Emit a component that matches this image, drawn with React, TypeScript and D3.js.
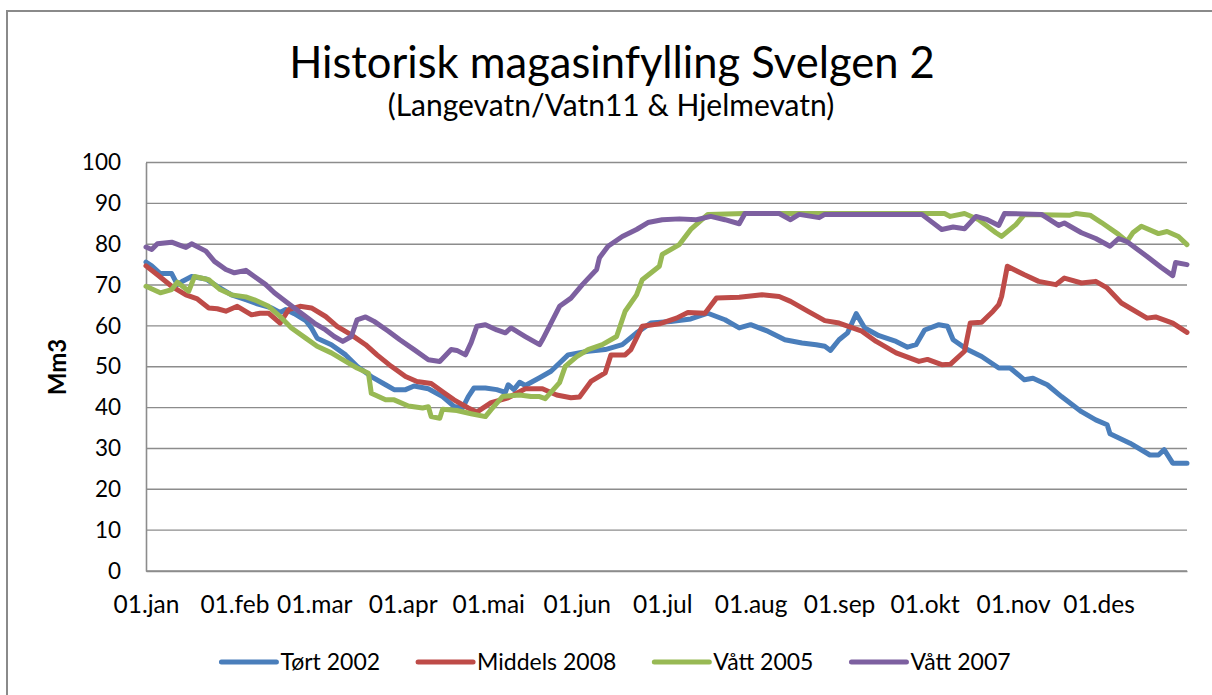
import React, { useEffect, useRef } from 'react';
import * as d3 from 'd3';

const monthLabels = ['01.jan', '01.feb', '01.mar', '01.apr', '01.mai', '01.jun', '01.jul', '01.aug', '01.sep', '01.okt', '01.nov', '01.des'];
const monthStartDays = [0, 31, 59, 90, 120, 151, 181, 212, 243, 273, 304, 334];
const yTicks = [0, 10, 20, 30, 40, 50, 60, 70, 80, 90, 100];

// [day of year, Mm3]
const tort2002: [number, number][] = [
  [0, 75.6], [2, 74.7], [5, 72.8], [9, 72.8], [11, 70.1], [13, 71], [16, 72.1], [21, 71.5], [25, 69.7], [30, 67.6],
  [35, 66.4], [39, 65.4], [44, 64.4], [47, 63.3], [49, 64], [52, 63], [56, 61.3], [58, 59.5], [60, 57], [65, 55.4],
  [70, 52.9], [74, 50.1], [79, 47.6], [84, 45.6], [87, 44.4], [91, 44.4], [94, 45.3], [99, 44.6], [104, 42.7], [108, 40.3],
  [111, 39.9], [113, 42.7], [115, 44.8], [119, 44.8], [123, 44.4], [126, 43.7], [127, 45.6], [129, 44.4], [131, 46.2], [133, 45.4],
  [138, 47.3], [142, 48.9], [148, 52.9], [155, 53.8], [161, 54.2], [167, 55.4], [172, 58.3], [177, 60.7], [184, 61.1], [191, 61.7],
  [197, 63.1], [203, 61.5], [208, 59.5], [212, 60.3], [218, 58.7], [224, 56.6], [230, 55.8], [235, 55.4], [238, 55], [240, 54],
  [243, 56.6], [246, 58.3], [249, 63], [252, 59.5], [257, 57.6], [263, 56.2], [267, 54.8], [270, 55.4], [273, 59], [278, 60.3],
  [281, 59.9], [283, 56.6], [288, 54.2], [293, 52.5], [299, 49.7], [303, 49.7], [308, 46.8], [311, 47.2], [316, 45.6], [321, 42.7],
  [328, 39], [333, 37], [337, 35.8], [338, 33.6], [345, 31.3], [352, 28.4], [355, 28.4], [357, 29.7], [360, 26.4], [365, 26.4],
];

const middels2008: [number, number][] = [
  [0, 74.7], [4, 72.5], [9, 69.7], [14, 67.6], [18, 66.6], [22, 64.4], [25, 64.2], [28, 63.6], [32, 64.8], [37, 62.7],
  [40, 63.1], [43, 63.1], [47, 60.7], [50, 64], [54, 64.8], [58, 64.4], [63, 62.3], [67, 59.9], [72, 57.8], [77, 55.4],
  [81, 52.9], [86, 50.1], [91, 47.6], [95, 46.4], [100, 45.9], [104, 43.9], [108, 41.9], [113, 39.9], [116, 38.9], [121, 41.2],
  [127, 42.4], [133, 44.6], [139, 44.6], [144, 43.1], [149, 42.4], [152, 42.6], [156, 46.4], [161, 48.5], [163, 52.9], [168, 52.9],
  [170, 54.2], [174, 59.9], [180, 60.5], [186, 61.9], [190, 63.3], [196, 63.1], [200, 66.8], [208, 67], [216, 67.6], [222, 67.2],
  [226, 66], [232, 63.6], [238, 61.3], [243, 60.7], [251, 58.7], [256, 56.2], [263, 53.4], [271, 51.3], [274, 51.8], [279, 50.5],
  [282, 50.6], [287, 53.8], [289, 60.7], [293, 60.9], [297, 63.6], [299, 65.2], [300, 67.2], [302, 74.6], [308, 72.5], [313, 70.9],
  [319, 70.1], [322, 71.7], [328, 70.5], [333, 70.9], [337, 69.3], [342, 65.6], [351, 61.9], [354, 62.2], [360, 60.7], [365, 58.4],
];

const vatt2005: [number, number][] = [
  [0, 69.7], [5, 68.1], [9, 68.9], [11, 70.7], [15, 68.5], [17, 72.1], [22, 71.3], [26, 68.9], [30, 67.6], [35, 67.1],
  [38, 66.4], [43, 64.8], [47, 62.3], [51, 59.5], [56, 57], [60, 55], [65, 53.4], [70, 51.3], [74, 49.7], [78, 48.4],
  [79, 43.5], [84, 41.9], [87, 41.9], [92, 40.4], [97, 39.9], [99, 40.2], [100, 37.8], [103, 37.4], [104, 39.6], [109, 39.3],
  [114, 38.5], [119, 37.8], [121, 39.5], [125, 42.7], [131, 43.1], [135, 42.7], [138, 42.7], [140, 42.2], [145, 46.1], [147, 50.1],
  [151, 52.5], [155, 54.2], [160, 55.4], [165, 57.4], [168, 63.6], [172, 67.6], [174, 71.3], [180, 74.6], [181, 77.5], [187, 79.9],
  [191, 83.6], [197, 87.3], [210, 87.5], [280, 87.5], [282, 86.8], [287, 87.5], [292, 86], [298, 82.8], [300, 81.9], [305, 84.8],
  [308, 87.3], [324, 87.1], [326, 87.5], [331, 87.1], [335, 85.3], [341, 82.4], [344, 80.7], [346, 82.8], [349, 84.4], [355, 82.6],
  [358, 83.1], [362, 81.9], [365, 79.9],
];

const vatt2007: [number, number][] = [
  [0, 79.3], [2, 78.7], [4, 80.1], [9, 80.5], [12, 79.7], [14, 79.2], [16, 80.1], [21, 78.3], [24, 75.8], [28, 73.8],
  [31, 73], [35, 73.6], [38, 72.1], [42, 70.1], [45, 68.1], [49, 66], [52, 64.4], [56, 62.3], [59, 60.7], [63, 59],
  [66, 57.4], [69, 56.2], [72, 57.4], [74, 61.5], [77, 62.2], [80, 61.1], [85, 58.7], [89, 56.6], [94, 54.2], [99, 51.7],
  [103, 51.3], [107, 54.2], [109, 54], [112, 52.9], [114, 55.9], [116, 59.9], [119, 60.3], [123, 59], [126, 58.3], [128, 59.5],
  [133, 57.4], [138, 55.4], [139, 56.6], [142, 60.7], [145, 64.8], [149, 66.8], [153, 70.1], [158, 73.8], [159, 76.7], [162, 79.5],
  [167, 81.9], [172, 83.6], [176, 85.3], [181, 86], [187, 86.2], [193, 86], [198, 86.8], [203, 86], [208, 85], [210, 87.5],
  [222, 87.5], [226, 86], [229, 87.3], [236, 86.5], [238, 87.3], [272, 87.3], [279, 83.6], [283, 84.2], [287, 83.8], [291, 86.8],
  [295, 86], [299, 84.6], [301, 87.5], [314, 87.3], [320, 84.6], [322, 85.2], [328, 82.8], [333, 81.4], [338, 79.5], [341, 81.4],
  [344, 80.6], [351, 77], [356, 74.3], [360, 72.3], [361, 75.5], [365, 75],
];

const seriesNames = ['Tørt 2002', 'Middels 2008', 'Vått 2005', 'Vått 2007'];
const seriesData = [tort2002, middels2008, vatt2005, vatt2007];
const colors = ['#4A7EBB', '#BE4B48', '#98B954', '#7D60A0'];

const FONT = 'Lato, "Open Sans", sans-serif';

function App() {
  const ref = useRef<SVGSVGElement>(null);

  useEffect(() => {
    const svg = d3.select(ref.current);
    svg.selectAll('*').remove();

    const width = 1212, height = 695;
    const plot = { left: 146, right: 1187, top: 162.5, bottom: 571 };

    // chart frame (right and bottom edges fall outside the picture)
    svg.append('rect')
      .attr('x', 7).attr('y', 11)
      .attr('width', width + 20).attr('height', height + 20)
      .attr('fill', 'white')
      .attr('stroke', '#8a8a8a')
      .attr('stroke-width', 2);

    const x = d3.scaleLinear().domain([0, 365]).range([plot.left, plot.right]);
    const y = d3.scaleLinear().domain([0, 100]).range([plot.bottom, plot.top]);

    // title
    svg.append('text')
      .attr('x', 612).attr('y', 78)
      .attr('text-anchor', 'middle')
      .attr('font-family', FONT)
      .attr('font-size', 43.5)
      .attr('fill', '#000')
      .text('Historisk magasinfylling Svelgen 2');

    svg.append('text')
      .attr('x', 611).attr('y', 116)
      .attr('text-anchor', 'middle')
      .attr('font-family', FONT)
      .attr('font-size', 30)
      .attr('fill', '#000')
      .text('(Langevatn/Vatn11 & Hjelmevatn)');

    // gridlines
    svg.append('g')
      .selectAll('line')
      .data(yTicks)
      .join('line')
      .attr('x1', plot.left).attr('x2', plot.right)
      .attr('y1', d => y(d)).attr('y2', d => y(d))
      .attr('stroke', '#8c8c8c')
      .attr('stroke-width', 1.4);

    // y axis
    const yAxis = svg.append('g')
      .attr('transform', `translate(${plot.left},0)`)
      .call(d3.axisLeft(y).tickValues(yTicks).tickSize(0).tickPadding(25));
    yAxis.select('.domain').attr('stroke', '#8c8c8c').attr('stroke-width', 1.6);
    yAxis.selectAll('text')
      .attr('font-family', FONT)
      .attr('font-size', 22.5)
      .attr('fill', '#000');

    // x axis
    const xAxis = svg.append('g')
      .attr('transform', `translate(0,${plot.bottom})`)
      .call(d3.axisBottom(x).tickValues(monthStartDays).tickSize(0).tickPadding(25)
        .tickFormat((d, i) => monthLabels[i]));
    xAxis.select('.domain').attr('stroke', '#8c8c8c').attr('stroke-width', 1.6);
    xAxis.selectAll('text')
      .attr('font-family', FONT)
      .attr('font-size', 24.5)
      .attr('fill', '#000');

    // y label
    svg.append('text')
      .attr('transform', `translate(66,367) rotate(-90)`)
      .attr('text-anchor', 'middle')
      .attr('font-family', FONT)
      .attr('font-weight', 'bold')
      .attr('font-size', 24)
      .attr('fill', '#000')
      .text('Mm3');

    // lines
    const line = d3.line<[number, number]>()
      .x(d => x(d[0]))
      .y(d => y(d[1]));

    seriesData.forEach((s, i) => {
      svg.append('path')
        .datum(s)
        .attr('fill', 'none')
        .attr('stroke', colors[i])
        .attr('stroke-width', 5)
        .attr('stroke-linejoin', 'round')
        .attr('stroke-linecap', 'round')
        .attr('d', line);
    });

    // legend
    const legend = svg.append('g');
    const swatch = 55, gapText = 4, gapItem = 38;
    let cx = 0;
    seriesNames.forEach((name, i) => {
      const g = legend.append('g');
      g.append('line')
        .attr('x1', 0).attr('x2', swatch)
        .attr('y1', 0).attr('y2', 0)
        .attr('stroke', colors[i])
        .attr('stroke-width', 5)
        .attr('stroke-linecap', 'round');
      const t = g.append('text')
        .attr('x', swatch + gapText).attr('y', 8)
        .attr('font-family', FONT)
        .attr('font-size', 23)
        .attr('fill', '#000')
        .text(name);
      const w = (t.node() as SVGTextElement).getComputedTextLength();
      g.attr('transform', `translate(${cx},0)`);
      cx += swatch + gapText + w + gapItem;
    });
    const total = cx - gapItem;
    legend.attr('transform', `translate(${616 - total / 2},662)`);
  }, []);

  return (
    <svg ref={ref} width={1212} height={695}
      style={{ position: 'absolute', left: 0, top: 0, background: 'white' }} />
  );
}

export default App;
